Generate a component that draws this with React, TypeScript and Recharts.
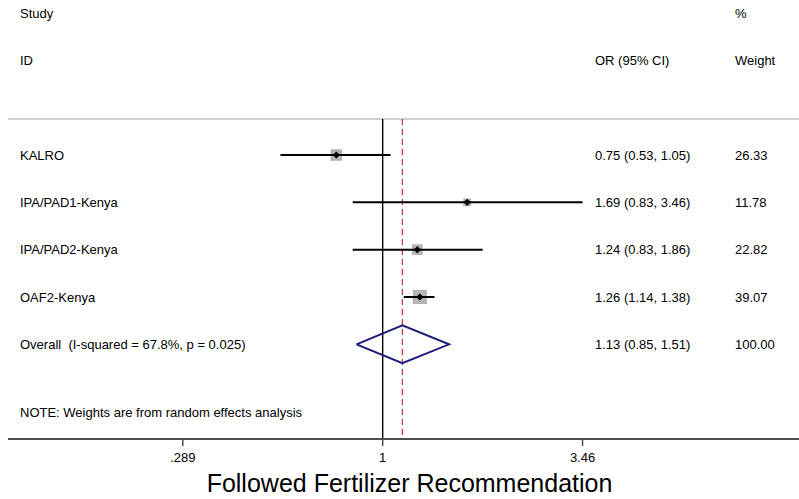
import React from "react";
import {
  ScatterChart,
  Scatter,
  XAxis,
  YAxis,
  ReferenceLine,
} from "recharts";

// study rows
const studies = ["KALRO", "IPA/PAD1-Kenya", "IPA/PAD2-Kenya", "OAF2-Kenya"];
const oddsRatios = [0.75, 1.69, 1.24, 1.26];
const ciLow = [0.53, 0.83, 0.83, 1.14];
const ciHigh = [1.05, 3.46, 1.86, 1.38];
const weights = [26.33, 11.78, 22.82, 39.07];

// pooled estimate
const overallLabel = "Overall  (I-squared = 67.8%, p = 0.025)";
const overallOR = 1.13;
const overallLow = 0.85;
const overallHigh = 1.51;
const overallWeight = 100.0;

const noteText = "NOTE: Weights are from random effects analysis";
const xTicks = [0.289, 1, 3.46];
const xTickLabels = [".289", "1", "3.46"];
const xTitle = "Followed Fertilizer Recommendation";

const FONT = "'Liberation Sans', Arial, sans-serif";
const X_DOMAIN: [number, number] = [0.0976, 13.27];

const fmt = (v: number) => v.toFixed(2);

const studyRows = studies.map((name, i) => ({
  x: oddsRatios[i],
  y: i + 3,
  name,
  w: weights[i],
  text: `${fmt(oddsRatios[i])} (${fmt(ciLow[i])}, ${fmt(ciHigh[i])})`,
  weight: fmt(weights[i]),
}));

const labelRows = [
  { x: 1, y: 0, name: "Study", text: "", weight: "%" },
  { x: 1, y: 1, name: "ID", text: "OR (95% CI)", weight: "Weight" },
  ...studyRows,
  {
    x: 1,
    y: 7,
    name: overallLabel,
    text: `${fmt(overallOR)} (${fmt(overallLow)}, ${fmt(overallHigh)})`,
    weight: fmt(overallWeight),
  },
  { x: 1, y: 8.45, name: noteText, text: "", weight: "" },
];

const diamond = [
  { x: overallLow, y: 7 },
  { x: overallOR, y: 6.6 },
  { x: overallHigh, y: 7 },
  { x: overallOR, y: 7.4 },
  { x: overallLow, y: 7 },
];

const Empty = () => <g />;

const BoxShape = (props: any) => {
  const { cx, cy, payload } = props;
  const s = 2.25 * Math.sqrt(payload.w);
  return <rect x={cx - s / 2} y={cy - s / 2} width={s} height={s} fill="#b4b4b4" />;
};

const PointShape = (props: any) => {
  const { cx, cy } = props;
  const r = 3.6;
  return (
    <path
      d={`M${cx - r},${cy} L${cx},${cy - r} L${cx + r},${cy} L${cx},${cy + r} Z`}
      fill="#000"
    />
  );
};

const TextShape = (props: any) => {
  const { cy, payload } = props;
  const style = { fontFamily: FONT, fontSize: 13, fill: "#000", whiteSpace: "pre" as const };
  return (
    <g>
      <text x={20} y={cy} dominantBaseline="central" style={style}>
        {payload.name}
      </text>
      {payload.text && (
        <text x={595} y={cy} dominantBaseline="central" style={style}>
          {payload.text}
        </text>
      )}
      {payload.weight && (
        <text x={735} y={cy} dominantBaseline="central" style={style}>
          {payload.weight}
        </text>
      )}
    </g>
  );
};

const TOP_ROW = 2.24;

export default function App() {
  return (
    <div style={{ position: "absolute", left: 0, top: 0, background: "#fff" }}>
      <ScatterChart
        width={799}
        height={499}
        margin={{ top: 13, right: 0, left: 8, bottom: 20 }}
      >
        <XAxis
          dataKey="x"
          type="number"
          scale="log"
          domain={X_DOMAIN}
          allowDataOverflow
          ticks={xTicks}
          tickFormatter={(v: number) => xTickLabels[xTicks.indexOf(v)] ?? String(v)}
          height={40}
          tickSize={7}
          tickMargin={7}
          axisLine={{ stroke: "#505050", strokeWidth: 2 }}
          tickLine={{ stroke: "#505050", strokeWidth: 1.5 }}
          tick={{ fill: "#000", fontSize: 13, fontFamily: FONT }}
        />
        <YAxis dataKey="y" type="number" domain={[0, 9]} reversed hide />

        <ReferenceLine y={TOP_ROW} stroke="#d0d0d0" strokeWidth={2} />
        <ReferenceLine
          segment={[
            { x: 1, y: TOP_ROW },
            { x: 1, y: 9 },
          ]}
          stroke="#000"
          strokeWidth={1.4}
        />
        <ReferenceLine
          segment={[
            { x: overallOR, y: TOP_ROW },
            { x: overallOR, y: 9 },
          ]}
          stroke="#b8323e"
          strokeWidth={1.2}
          strokeDasharray="6 4"
        />

        <Scatter data={labelRows} shape={TextShape} isAnimationActive={false} />
        <Scatter data={studyRows} shape={BoxShape} isAnimationActive={false} />
        {studyRows.map((r, i) => (
          <Scatter
            key={r.name}
            data={[
              { x: ciLow[i], y: r.y },
              { x: ciHigh[i], y: r.y },
            ]}
            line={{ stroke: "#000", strokeWidth: 2 }}
            lineType="joint"
            shape={Empty}
            isAnimationActive={false}
          />
        ))}
        <Scatter data={studyRows} shape={PointShape} isAnimationActive={false} />
        <Scatter
          data={diamond}
          line={{ stroke: "#1c1c7a", strokeWidth: 2 }}
          lineType="joint"
          shape={Empty}
          isAnimationActive={false}
        />
      </ScatterChart>
      <div
        style={{
          position: "absolute",
          left: 0,
          top: 468,
          width: 819,
          textAlign: "center",
          fontFamily: FONT,
          fontSize: 25,
          color: "#000",
          lineHeight: "30px",
        }}
      >
        {xTitle}
      </div>
    </div>
  );
}
